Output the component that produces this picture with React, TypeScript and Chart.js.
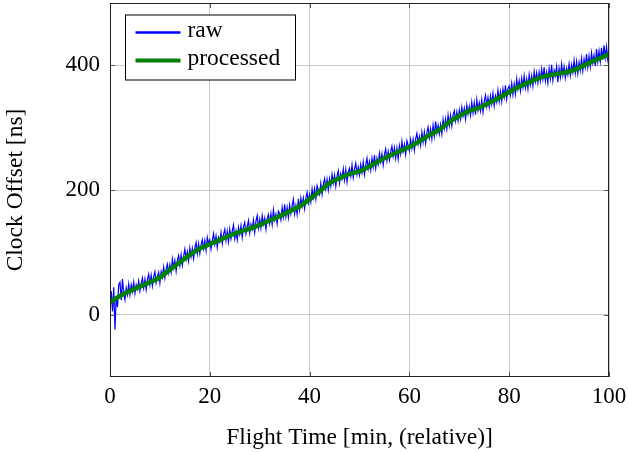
import React, { useEffect, useRef } from "react";
import { Chart, registerables } from "chart.js";

Chart.register(...registerables);

const xTicks = [0, 20, 40, 60, 80, 100];
const yTicks = [0, 200, 400];

const processedTimes = [
  0, 2, 4, 6, 8, 10, 12, 14, 16, 18, 20, 22, 24, 26, 28, 30, 32, 34, 36, 38, 40,
  42, 44, 46, 48, 50, 52, 54, 56, 58, 60, 62, 64, 66, 68, 70, 72, 74, 76, 78, 80,
  82, 84, 86, 88, 90, 92, 94, 96, 98, 100,
];
const processedValues = [
  20, 30, 38, 45, 52, 60, 72, 84, 96, 106, 113, 120, 127, 133, 138, 144, 151, 158,
  166, 174, 185, 198, 211, 219, 226, 230, 238, 247, 255, 262, 269, 278, 288, 297,
  309, 319, 327, 332, 340, 348, 357, 366, 373, 380, 384, 387, 390, 396, 404, 411, 418,
];

// raw samples, one every 0.25 min (each row covers 2 min)
const rawStep = 0.25;
const rawValues = [
  14, 38, 5, 44, -24, 30, 12, 48,
  52, 23, 57, 35, 24, 43, 32, 49,
  32, 48, 37, 52, 34, 48, 41, 54,
  38, 50, 59, 43, 57, 40, 56, 65,
  48, 63, 46, 61, 69, 51, 61, 68,
  51, 69, 60, 76, 59, 73, 81, 67,
  80, 68, 89, 75, 87, 70, 87, 95,
  79, 96, 79, 93, 105, 89, 101, 86,
  107, 93, 106, 90, 107, 116, 98, 114,
  98, 112, 120, 106, 119, 103, 124, 114,
  120, 105, 119, 130, 113, 126, 108, 124,
  117, 132, 114, 129, 137, 119, 134, 117,
  137, 122, 134, 144, 122, 134, 120, 140,
  129, 143, 124, 141, 148, 130, 141, 151,
  131, 145, 137, 152, 132, 150, 159, 139,
  153, 139, 159, 145, 155, 137, 154, 161,
  146, 162, 145, 168, 152, 161, 146, 166,
  162, 152, 172, 157, 177, 157, 172, 156,
  176, 162, 175, 185, 162, 175, 161, 186,
  168, 187, 174, 187, 170, 187, 196, 180,
  193, 181, 202, 188, 202, 186, 207, 200,
  193, 211, 193, 209, 218, 202, 217, 200,
  218, 206, 225, 211, 224, 206, 222, 231,
  211, 226, 218, 234, 216, 233, 213, 229,
  235, 222, 240, 220, 234, 243, 225, 237,
  224, 241, 228, 245, 225, 240, 251, 234,
  246, 232, 251, 237, 256, 235, 251, 241,
  259, 245, 258, 240, 257, 266, 247, 262,
  248, 261, 270, 254, 268, 251, 267, 250,
  271, 258, 278, 262, 273, 257, 279, 272,
  263, 281, 267, 281, 264, 282, 291, 274,
  286, 272, 293, 277, 293, 275, 292, 301,
  284, 298, 282, 304, 287, 310, 292, 304,
  290, 305, 290, 313, 299, 314, 298, 320,
  304, 320, 303, 320, 327, 311, 325, 311,
  328, 314, 333, 319, 331, 314, 336, 322,
  334, 320, 341, 324, 340, 321, 345, 328,
  340, 327, 345, 325, 342, 352, 334, 348,
  333, 351, 338, 355, 335, 351, 341, 360,
  342, 358, 342, 362, 349, 368, 346, 363,
  367, 353, 371, 353, 370, 354, 378, 362,
  375, 359, 379, 365, 383, 364, 378, 362,
  385, 369, 383, 367, 390, 374, 388, 372,
  389, 375, 394, 378, 397, 375, 389, 372,
  395, 379, 401, 376, 392, 383, 398, 373,
  395, 381, 402, 384, 398, 380, 395, 385,
  402, 384, 401, 389, 408, 388, 406, 387,
  405, 392, 411, 391, 410, 397, 418, 397,
  415, 398, 420, 404, 416, 399, 426, 406,
  423, 406, 428, 409, 432, 412, 430, 409,
  421,
];

const legendLabels = ["raw", "processed"];
const seriesColors = ["#0000ff", "#008000"];

const FONT = "'Liberation Serif', 'DejaVu Serif', serif";

const frame = {
  id: "frame",
  afterDraw(chart: any) {
    const { ctx, chartArea } = chart;
    const { left, top, right, bottom } = chartArea;
    ctx.save();
    ctx.strokeStyle = "#555";
    ctx.lineWidth = 1;
    const xs = chart.scales.x;
    const ys = chart.scales.y;
    ctx.beginPath();
    xTicks.forEach((v) => {
      const px = Math.round(xs.getPixelForValue(v)) + 0.5;
      ctx.moveTo(px, bottom);
      ctx.lineTo(px, bottom - 5);
      ctx.moveTo(px, top);
      ctx.lineTo(px, top + 5);
    });
    yTicks.forEach((v) => {
      const py = Math.round(ys.getPixelForValue(v)) + 0.5;
      ctx.moveTo(left, py);
      ctx.lineTo(left + 5, py);
      ctx.moveTo(right, py);
      ctx.lineTo(right - 5, py);
    });
    ctx.stroke();
    ctx.strokeStyle = "#222";
    ctx.strokeRect(left + 0.5, top + 0.5, right - left - 1, bottom - top - 1);

    // legend
    const bx = left + 15.5, by = top + 12, bw = 170, bh = 65;
    ctx.fillStyle = "#fff";
    ctx.fillRect(bx, by, bw, bh);
    ctx.strokeStyle = "#000";
    ctx.lineWidth = 1;
    ctx.strokeRect(bx, by, bw, bh);
    ctx.font = `23.5px ${FONT}`;
    ctx.textBaseline = "alphabetic";
    legendLabels.forEach((lab, i) => {
      const cy = by + 17.5 + i * 28;
      ctx.strokeStyle = seriesColors[i];
      ctx.lineWidth = i === 0 ? 2.5 : 4;
      ctx.beginPath();
      ctx.moveTo(bx + 10, cy);
      ctx.lineTo(bx + 55, cy);
      ctx.stroke();
      ctx.fillStyle = "#000";
      ctx.fillText(lab, bx + 62, cy + 4);
    });
    ctx.restore();
  },
};

export default function App() {
  const ref = useRef<HTMLCanvasElement>(null);
  useEffect(() => {
    if (!ref.current) return;
    const rawData = rawValues.map((v, i) => ({ x: i * rawStep, y: v }));
    const procData = processedValues.map((v, i) => ({ x: processedTimes[i], y: v }));
    const chart = new Chart(ref.current, {
      type: "line",
      data: {
        datasets: [
          {
            label: legendLabels[1],
            data: procData,
            borderColor: seriesColors[1],
            borderWidth: 4.5,
            pointRadius: 0,
            cubicInterpolationMode: "monotone",
            order: 0,
          },
          {
            label: legendLabels[0],
            data: rawData,
            borderColor: seriesColors[0],
            borderWidth: 1.2,
            pointRadius: 0,
            tension: 0,
            order: 1,
          },
        ],
      },
      options: {
        animation: false,
        responsive: false,
        maintainAspectRatio: false,
        layout: { padding: { left: 0, top: 3, right: 19, bottom: 0 } },
        plugins: { legend: { display: false }, tooltip: { enabled: false } },
        scales: {
          x: {
            type: "linear",
            min: 0,
            max: 100,
            afterBuildTicks: (s: any) => {
              s.ticks = xTicks.map((v) => ({ value: v }));
            },
            afterFit: (s: any) => {
              s.height = 75;
              s.paddingLeft = 0;
              s.paddingRight = 0;
            },
            grid: { color: "#c8c8c8", drawTicks: false },
            border: { display: false },
            ticks: {
              padding: 6,
              color: "#000",
              font: { family: FONT, size: 23 },
              maxRotation: 0,
            },
            title: {
              display: true,
              text: "Flight Time [min, (relative)]",
              color: "#000",
              font: { family: FONT, size: 23.5 },
              padding: { top: 0, bottom: 0 },
            },
          },
          y: {
            type: "linear",
            min: -100,
            max: 500,
            afterBuildTicks: (s: any) => {
              s.ticks = yTicks.map((v) => ({ value: v }));
            },
            afterFit: (s: any) => {
              s.width = 110;
              s.paddingTop = 0;
              s.paddingBottom = 0;
            },
            grid: { color: "#c8c8c8", drawTicks: false },
            border: { display: false },
            ticks: {
              padding: 10,
              color: "#000",
              font: { family: FONT, size: 23 },
            },
            title: {
              display: true,
              text: "Clock Offset [ns]",
              color: "#000",
              font: { family: FONT, size: 23.5 },
              padding: { top: 2, bottom: 0 },
            },
          },
        },
      },
      plugins: [frame],
    });
    return () => chart.destroy();
  }, []);
  return (
    <div style={{ position: "fixed", left: 0, top: 0, width: 628, height: 452, background: "#fff" }}>
      <canvas ref={ref} width={628} height={452} style={{ width: 628, height: 452 }} />
    </div>
  );
}
